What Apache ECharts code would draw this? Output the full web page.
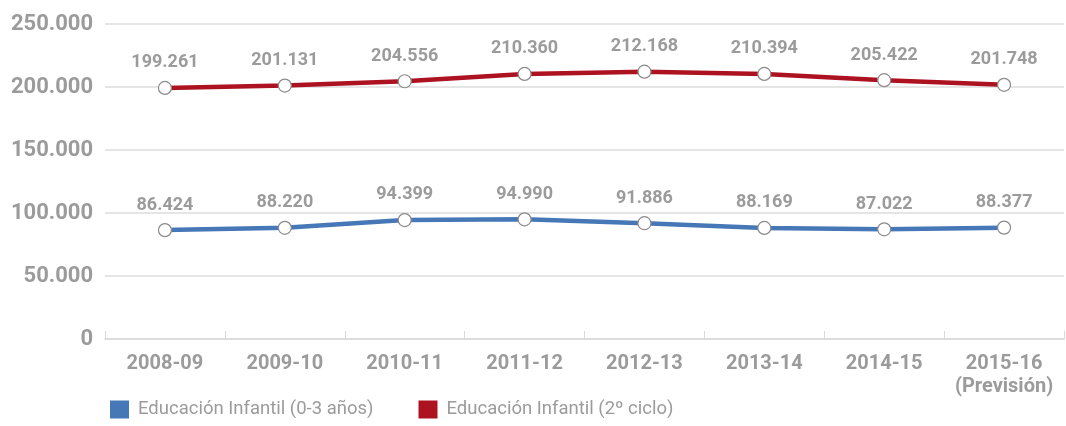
<!DOCTYPE html>
<html>
<head>
<meta charset="utf-8">
<script src="https://cdn.jsdelivr.net/npm/echarts@6/dist/echarts.min.js"></script>
<style>
  html, body { margin: 0; padding: 0; background: #fff; }
  #chart { width: 1066px; height: 426px; }
</style>
</head>
<body>
<div id="chart"></div>
<script>
var cursos = ["2008-09", "2009-10", "2010-11", "2011-12", "2012-13", "2013-14", "2014-15", "2015-16\n(Previsión)"];
var infantil03 = [86424, 88220, 94399, 94990, 91886, 88169, 87022, 88377];
var infantil2ciclo = [199261, 201131, 204556, 210360, 212168, 210394, 205422, 201748];
var nombres = ["Educación Infantil (0-3 años)", "Educación Infantil (2º ciclo)"];

var fuente = '"Roboto", sans-serif';
var gris = "#9b9b9b";

function miles(v) {
  return String(v).replace(/\B(?=(\d{3})+(?!\d))/g, ".");
}

function serie(nombre, datos, color) {
  return {
    name: nombre,
    type: "line",
    data: datos,
    symbol: "circle",
    symbolSize: 13,
    lineStyle: { color: color, width: 4.5 },
    itemStyle: { color: "#fff", borderColor: "#8a8a8a", borderWidth: 1.2 },
    label: {
      show: true,
      position: "top",
      distance: 9,
      color: gris,
      fontFamily: fuente,
      fontWeight: "bold",
      fontSize: 18,
      formatter: function (p) { return miles(p.value); }
    },
    z: 3
  };
}

var chart = echarts.init(document.getElementById("chart"));
chart.setOption({
  animation: false,
  grid: { left: 105, right: 2, top: 24, bottom: 87 },
  color: ["#4677b6", "#ad1220"],
  legend: {
    left: 105,
    bottom: 2,
    itemWidth: 19,
    itemHeight: 18,
    itemGap: 45,
    icon: "rect",
    textStyle: { color: gris, fontFamily: fuente, fontSize: 18.5, padding: [0, 0, 0, 4] },
    data: [
      { name: nombres[0], itemStyle: { color: "#4677b6", borderWidth: 0 } },
      { name: nombres[1], itemStyle: { color: "#ad1220", borderWidth: 0 } }
    ]
  },
  xAxis: {
    type: "category",
    data: cursos,
    boundaryGap: true,
    axisLine: { lineStyle: { color: "#d9d9d9", width: 1.5 } },
    axisTick: { show: true, inside: true, length: 8, lineStyle: { color: "#d9d9d9" } },
    axisLabel: {
      interval: 0,
      color: gris,
      fontFamily: fuente,
      fontWeight: "bold",
      fontSize: 20,
      lineHeight: 23,
      margin: 13
    }
  },
  yAxis: {
    type: "value",
    min: 0,
    max: 250000,
    interval: 50000,
    axisLine: { show: false },
    axisTick: { show: false },
    splitLine: { lineStyle: { color: "#dcdcdc", width: 1.5 } },
    axisLabel: {
      color: gris,
      fontFamily: fuente,
      fontWeight: "bold",
      fontSize: 22,
      margin: 12,
      formatter: function (v) { return miles(v); }
    }
  },
  series: [
    serie(nombres[0], infantil03, "#4677b6"),
    serie(nombres[1], infantil2ciclo, "#ad1220")
  ]
});
</script>
</body>
</html>
